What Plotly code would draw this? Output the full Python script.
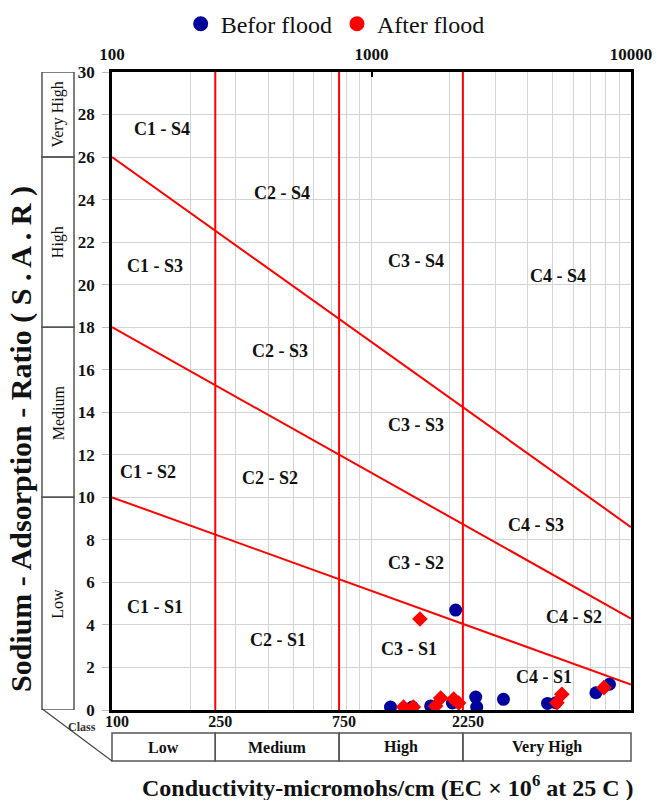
import math
import plotly.graph_objects as go

# ---------------- data ----------------
before_ec = [2110, 1184, 1436, 1690, 2049, 2521, 2543, 3225, 4768, 5133, 7325, 8260]
before_sar = [4.70, 0.14, 0.14, 0.19, 0.33, 0.61, 0.14, 0.50, 0.31, 0.34, 0.81, 1.21]

after_ec = [1537, 1329, 1450, 1766, 1847, 2073, 2167, 5180, 5414, 7866]
after_sar = [4.28, 0.14, 0.14, 0.19, 0.56, 0.52, 0.33, 0.34, 0.74, 1.05]

# salinity class boundaries (EC) and sodium hazard boundary lines
ec_bounds = [250, 750, 2250]
ec_range = [100, 10000]
sar_lines = [[26, 8.6], [18, 4.3], [10, 1.2]]

# class names
sal_classes = ["Low", "Medium", "High", "Very High"]
sal_edges = [100, 250, 750, 2250, 10000]
sod_classes = ["Low", "Medium", "High", "Very High"]
sod_edges = [0, 10, 18, 26, 30]

# region labels: (text, EC, SAR)
region_labels = [
    ("C1 - S4", 156, 27.3), ("C2 - S4", 453, 24.3), ("C1 - S3", 147, 20.9),
    ("C3 - S4", 1479, 21.1), ("C4 - S4", 5224, 20.4), ("C2 - S3", 445, 16.9),
    ("C3 - S3", 1479, 13.4), ("C1 - S2", 138, 11.2), ("C2 - S2", 407, 10.9),
    ("C4 - S3", 4295, 8.7), ("C3 - S2", 1479, 6.9), ("C1 - S1", 147, 4.84),
    ("C4 - S2", 6026, 4.37), ("C2 - S1", 437, 3.29), ("C3 - S1", 1390, 2.87),
    ("C4 - S1", 4616, 1.55),
]

bottom_ticks = [100, 250, 750, 2250]
top_ticks = [100, 1000, 10000]
minor_grid = [200, 300, 400, 500, 600, 700, 800, 900, 1000,
              2000, 3000, 4000, 5000, 6000, 7000, 8000, 9000]
y_ticks = list(range(0, 31, 2))

BLUE = "#00009c"
RED = "#ff0000"
FONT = "Liberation Serif"
TXT = "#111111"
X_LOG_RANGE = [2, 4]

fig = go.Figure()

# vertical class boundaries
for b in ec_bounds:
    fig.add_trace(go.Scatter(x=[b, b], y=[0, 30], mode="lines",
                             line=dict(color=RED, width=2),
                             showlegend=False, hoverinfo="skip"))
# sodium hazard lines
for s in sar_lines:
    fig.add_trace(go.Scatter(x=ec_range, y=s, mode="lines",
                             line=dict(color=RED, width=2),
                             showlegend=False, hoverinfo="skip"))

# data
fig.add_trace(go.Scatter(x=before_ec, y=before_sar, mode="markers",
                         marker=dict(symbol="circle", size=13, color=BLUE),
                         showlegend=False, name="Befor flood"))
fig.add_trace(go.Scatter(x=after_ec, y=after_sar, mode="markers",
                         marker=dict(symbol="diamond", size=12, color=RED),
                         showlegend=False, name="After flood"))

# legend entries
fig.add_trace(go.Scatter(x=[None], y=[None], mode="markers",
                         marker=dict(symbol="circle", size=15, color=BLUE),
                         name="Befor flood"))
fig.add_trace(go.Scatter(x=[None], y=[None], mode="markers",
                         marker=dict(symbol="circle", size=15, color=RED),
                         name="After flood"))

# invisible trace for top axis
fig.add_trace(go.Scatter(x=top_ticks, y=[0, 0, 0], xaxis="x2", mode="markers",
                         marker=dict(opacity=0), showlegend=False, hoverinfo="skip"))

lg = math.log10


def xpaper(v):
    return (lg(v) - X_LOG_RANGE[0]) / (X_LOG_RANGE[1] - X_LOG_RANGE[0])


annotations = []
for t, xv, yv in region_labels:
    annotations.append(dict(x=lg(xv), y=yv, xref="x", yref="y", text="<b>%s</b>" % t,
                            showarrow=False,
                            font=dict(family=FONT, size=18, color=TXT),
                            xanchor="center", yanchor="middle"))

shapes = []
BOX_X0, BOX_X1 = -0.1349, -0.0732
for i, name in enumerate(sod_classes):
    y0, y1 = sod_edges[i], sod_edges[i + 1]
    shapes.append(dict(type="rect", xref="paper", yref="y", x0=BOX_X0, x1=BOX_X1,
                       y0=y0, y1=y1, line=dict(color="#555555", width=1.5)))
    annotations.append(dict(x=(BOX_X0 + BOX_X1) / 2, y=(y0 + y1) / 2, xref="paper", yref="y",
                            text=name, showarrow=False, textangle=-90,
                            xanchor="center", yanchor="middle",
                            font=dict(family=FONT, size=16, color=TXT)))

BY0, BY1 = -0.080, -0.036
for i, name in enumerate(sal_classes):
    x0, x1 = xpaper(sal_edges[i]), xpaper(sal_edges[i + 1])
    shapes.append(dict(type="rect", xref="paper", yref="paper", x0=x0, x1=x1,
                       y0=BY0, y1=BY1, line=dict(color="#555555", width=1.5)))
    annotations.append(dict(x=(x0 + x1) / 2, y=(BY0 + BY1) / 2, xref="paper", yref="paper",
                            text="<b>%s</b>" % name, showarrow=False,
                            xanchor="center", yanchor="middle",
                            font=dict(family=FONT, size=16, color=TXT)))

shapes.append(dict(type="line", xref="paper", yref="paper", x0=BOX_X0, y0=0.002,
                   x1=0, y1=BY0, line=dict(color="#444444", width=1.2)))

annotations.append(dict(x=-0.058, y=-0.0266, xref="paper", yref="paper", text="<b>Class</b>",
                        showarrow=False, xanchor="center", yanchor="middle",
                        font=dict(family=FONT, size=12, color="#333333")))
annotations.append(dict(x=-0.175, y=0.425, xref="paper", yref="paper",
                        text="<b>Sodium - Adsorption - Ratio ( S . A . R )</b>",
                        showarrow=False, textangle=-90, xanchor="center", yanchor="middle",
                        font=dict(family=FONT, size=30, color=TXT)))
annotations.append(dict(x=0.532, y=-0.119, xref="paper", yref="paper",
                        text="<b>Conductivity-micromohs/cm (EC × 10<sup>6</sup> at 25 C )</b>",
                        showarrow=False, xanchor="center", yanchor="middle",
                        font=dict(family=FONT, size=24, color=TXT)))

fig.update_layout(
    width=656, height=800,
    margin=dict(l=112, r=25, t=72, b=90, autoexpand=False),
    paper_bgcolor="white", plot_bgcolor="white",
    font=dict(family=FONT, color=TXT),
    showlegend=True,
    legend=dict(orientation="h", x=0.43, xanchor="center", y=1.075, yanchor="middle",
                font=dict(family=FONT, size=24, color=TXT),
                itemsizing="trace", tracegroupgap=0),
    xaxis=dict(type="log", range=X_LOG_RANGE, tickmode="array", tickvals=bottom_ticks,
               ticktext=["<b>%d</b>" % v for v in bottom_ticks],
               tickfont=dict(family=FONT, size=16, color=TXT),
               ticklabelshift=5, ticklabelstandoff=-5,
               showgrid=False, zeroline=False, ticks="",
               showline=True, mirror=True, linecolor="black", linewidth=2.5,
               minor=dict(tickmode="array", tickvals=minor_grid, showgrid=True,
                          gridcolor="#d4d4d4", gridwidth=1, ticks="")),
    xaxis2=dict(type="log", range=X_LOG_RANGE, overlaying="x", side="top", tickmode="array",
                tickvals=top_ticks, ticktext=["<b>%d</b>" % v for v in top_ticks],
                tickfont=dict(family=FONT, size=17, color=TXT),
                ticklabelstandoff=8,
                showgrid=False, zeroline=False, ticks="inside", ticklen=5,
                tickcolor="black", tickwidth=2, showline=False),
    yaxis=dict(range=[0, 30], tickmode="array", tickvals=y_ticks,
               ticktext=["<b>%d</b>" % v for v in y_ticks],
               tickfont=dict(family=FONT, size=17, color=TXT),
               ticklabelstandoff=4,
               showgrid=True, gridcolor="#d4d4d4", gridwidth=1, zeroline=False,
               ticks="outside", ticklen=7, tickcolor="#bbbbbb",
               showline=True, mirror=True, linecolor="black", linewidth=2.5),
    shapes=shapes,
    annotations=annotations,
)

fig.write_html("out.html", config={"displayModeBar": False},
               post_script="document.body.style.margin='0px';")
